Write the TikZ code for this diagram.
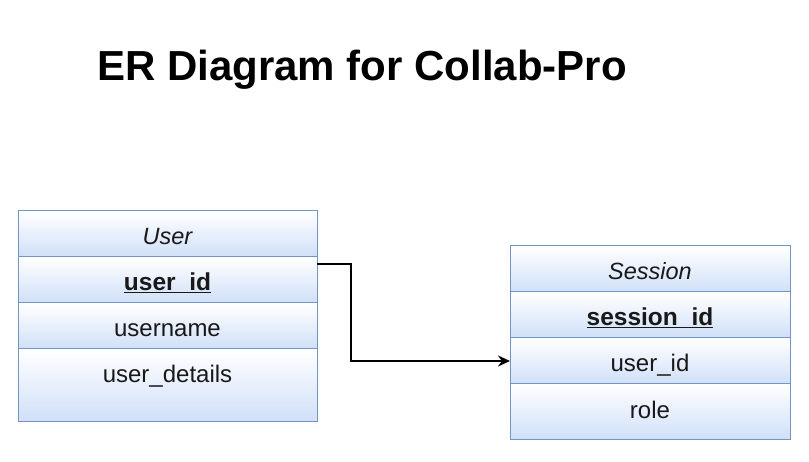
\documentclass[tikz,border=0pt]{standalone}
\usepackage{fontspec}
\setmainfont{Liberation Sans}
\usetikzlibrary{arrows, arrows.meta, positioning}
\definecolor{rowfill}{HTML}{D0E0F8}
\definecolor{rowline}{HTML}{7394C4}
\newcommand{\keyattr}[1]{\underline{\raisebox{0pt}[\height][0pt]{#1}}}
\tikzset{
>={Stealth[length=12pt,width=11pt]}, % bold arrow heads
node distance=0pt, % rows are stacked without gaps
row/.style={draw=rowline, line width=1pt, top color=white, bottom color=rowfill,
  minimum height=46pt, inner sep=0pt, outer sep=0pt, text=black!90,
  text height=22pt, text depth=1pt,
  font=\fontsize{24}{28}\selectfont},
userrow/.style={row, minimum width=299pt},
sessionrow/.style={row, minimum width=280pt},
entityname/.style={font=\fontsize{23.5}{27}\selectfont\itshape},
keyfield/.style={font=\fontsize{24.5}{28}\selectfont\bfseries},
}
\begin{document}
\begin{tikzpicture}[x=1pt,y=-1pt]
  \useasboundingbox (0,0) rectangle (809,462);
  \node[font=\fontsize{42}{48}\selectfont\bfseries, anchor=base] (title) at (362,81) {ER Diagram for Collab-Pro};

  % User entity
  \node[userrow, entityname, anchor=north west] (user) at (18,211) {User};
  \node[userrow, keyfield, below=of user] (userid) {\keyattr{user\_id}};
  \node[userrow, below=of userid] (username) {username};
  \node[userrow, minimum height=72pt, text height=18pt, text depth=23pt, below=of username] (userdetails) {user\_details};

  % Session entity
  \node[sessionrow, entityname, anchor=north west] (session) at (510,246) {Session};
  \node[sessionrow, keyfield, below=of session] (sessionid) {\keyattr{session\_id}};
  \node[sessionrow, below=of sessionid] (sessionuser) {user\_id};
  \node[sessionrow, minimum height=55pt, text height=15pt, text depth=2pt, below=of sessionuser] (sessionrole) {role};

  \draw[->, line width=1.6pt] ([yshift=16pt]userid.east) -- ++(34,0) |- (sessionuser.west);
\end{tikzpicture}
\end{document}
